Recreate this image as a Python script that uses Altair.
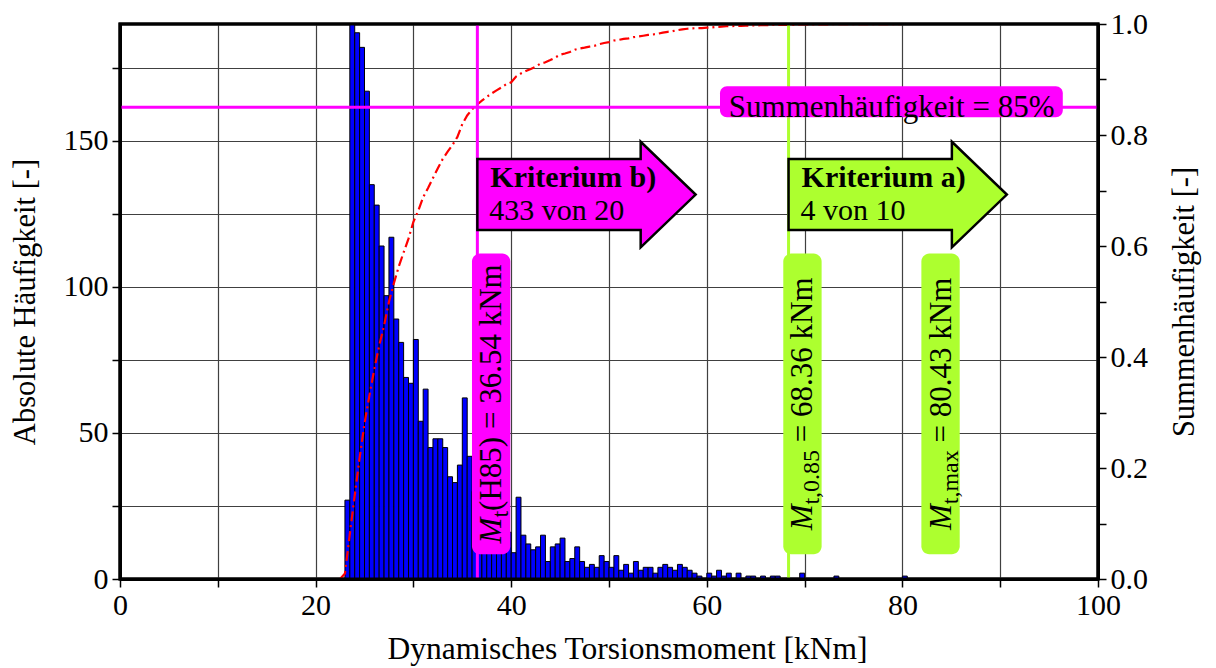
import altair as alt
import numpy as np
import pandas as pd

SERIF = "Liberation Serif"
MAGENTA = "#ff00ff"
GREEN = "#adff2f"
BLUE = "#0000ff"

# Histogram classes, 0.5 kNm wide, the first class starts at 22.5 kNm
BIN_START = 22.5
BIN_WIDTH = 0.5
counts = [
    0,
    27, 192, 187, 182, 167, 135, 128, 114, 97, 117,
    89, 81, 69, 67, 82, 54, 65, 45, 48, 48,
    45, 35, 33, 39, 62, 42, 30, 22, 20, 18,
    17, 15, 14, 16, 9, 28, 15, 12, 10, 11,
    15, 6, 11, 12, 14, 6, 7, 11, 6, 4,
    5, 4, 8, 6, 4, 8, 3, 5, 2, 6,
    3, 4, 4, 2, 4, 5, 4, 3, 5, 4,
    3, 2, 1, 0, 2, 1, 3, 1, 2, 0,
    2, 0, 1, 1, 0, 1, 0, 1, 1, 0,
    0, 0, 0, 2, 0, 0, 0, 0, 0, 0,
    1, 0, 0, 0, 0, 0, 0, 0, 0, 0,
    0, 0, 0, 0, 1,
]

x_ticks = list(range(0, 101, 10))
count_ticks = list(range(0, 176, 25))
frac_ticks = [round(0.1 * i, 1) for i in range(11)]

# Characteristic torque values and the cumulative level
m_h85 = 36.54
m_085 = 68.36
m_max = 80.43
level = 0.85

criteria_titles = ["Kriterium b)", "Kriterium a)"]
criteria_details = ["433 von 20", "4 von 10"]

# ---------------------------------------------------------------------------
W, H = 978, 555
X_DOMAIN = [0, 100]
COUNT_DOMAIN = [0, 190]
x_scale = alt.Scale(domain=X_DOMAIN, nice=False, zero=False)
count_scale = alt.Scale(domain=COUNT_DOMAIN, nice=False)
frac_scale = alt.Scale(domain=[0, 1], nice=False)

hist = pd.DataFrame({
    "start": BIN_START + BIN_WIDTH * np.arange(len(counts)),
    "count": counts,
})
hist["end"] = hist["start"] + BIN_WIDTH
hist["base"] = 0

AXIS_STYLE = dict(
    labelFont=SERIF, titleFont=SERIF, labelFontSize=30,
    labelColor="black", titleColor="black", titleFontWeight="normal",
    domainColor="black", domainWidth=3, tickColor="black", tickWidth=1.5,
    tickSize=8, labelFlush=False, labelOverlap=False,
)

x_axis = alt.Axis(
    values=x_ticks,
    labelExpr="datum.value % 20 == 0 ? datum.label : ''",
    title="Dynamisches Torsionsmoment [kNm]", titleFontSize=31.5,
    grid=True, gridColor="#404040", gridWidth=1.2,
    labelPadding=3, titlePadding=13, titleX=507,
    **AXIS_STYLE,
)
left_axis = alt.Axis(
    orient="left", values=count_ticks,
    labelExpr="datum.value % 50 == 0 ? datum.label : ''",
    title="Absolute Häufigkeit [-]", titleFontSize=30.5,
    grid=True, gridColor="#404040", gridWidth=1.2,
    labelPadding=4, titlePadding=23,
    **AXIS_STYLE,
)
right_axis = alt.Axis(
    orient="right", values=frac_ticks, format=".1f",
    labelExpr="round(datum.value * 10) % 2 == 0 ? datum.label : ''",
    title="Summenhäufigkeit [-]", titleFontSize=30.5,
    grid=False, labelPadding=4, titlePadding=22,
    titleAngle=270, titleBaseline="top",
    **AXIS_STYLE,
)


def xq(field):
    # every layer shares the torque scale and the same bottom axis
    return alt.X(field, type="quantitative", scale=x_scale, axis=x_axis)


bars = alt.Chart(hist).mark_bar(
    fill=BLUE, stroke="black", strokeWidth=1, clip=True
).encode(
    x=xq("start"),
    x2="end:Q",
    y=alt.Y("count:Q", scale=count_scale, axis=left_axis),
    y2="base:Q",
)

cumulative = alt.Chart(hist).transform_window(
    cum="sum(count)", sort=[alt.SortField("start")], frame=[None, 0]
).transform_joinaggregate(
    total="sum(count)"
).transform_calculate(
    frac="datum.cum / datum.total"
).mark_line(
    color="#ff0000", strokeWidth=2.2, strokeDash=[10, 4, 2, 4]
).encode(
    x=xq("start"),
    y=alt.Y("frac:Q", scale=frac_scale, axis=right_axis),
)

vlines = alt.Chart(pd.DataFrame({
    "start": [m_h85, m_085], "color": [MAGENTA, GREEN],
})).mark_rule(strokeWidth=3).encode(
    x=xq("start"),
    color=alt.Color("color:N", scale=None),
)

hline = alt.Chart(pd.DataFrame({"y": [level]})).mark_rule(
    color=MAGENTA, strokeWidth=3
).encode(y=alt.Y("y:Q", scale=frac_scale, axis=None))

# Arrow outline in symbol units (scaled by sqrt(size)/2), origin at the tail
ARROW_PATH = "M0,-0.672L3.093,-0.672L3.093,-1L4.134,0L3.093,1L3.093,0.672L0,0.672Z"
ARROW_SIZE = 105.6 ** 2
criteria = pd.DataFrame({
    "start": [m_h85, m_085],
    "fill": [MAGENTA, GREEN],
    "title": criteria_titles,
    "detail": criteria_details,
    "ay": [131.6, 131.6],
    "ty": [134.1, 134.1],
    "dy": [123.0, 123.0],
})
arrows = alt.Chart(criteria).mark_point(
    shape=ARROW_PATH, size=ARROW_SIZE, filled=True, opacity=1,
    stroke="black", strokeWidth=2.5,
).encode(
    x=xq("start"),
    y=alt.Y("ay:Q", scale=count_scale, axis=None),
    fill=alt.Fill("fill:N", scale=None),
)
arrow_titles = alt.Chart(criteria).mark_text(
    align="left", baseline="alphabetic", dx=13, font=SERIF,
    fontSize=30, fontWeight="bold", color="black",
).encode(
    x=xq("start"),
    y=alt.Y("ty:Q", scale=count_scale, axis=None),
    text="title:N",
)
arrow_details = alt.Chart(criteria).mark_text(
    align="left", baseline="alphabetic", dx=12, font=SERIF,
    fontSize=30, color="black",
).encode(
    x=xq("start"),
    y=alt.Y("dy:Q", scale=count_scale, axis=None),
    text="detail:N",
)

# Label for the 85 % level
level_box = alt.Chart(pd.DataFrame({
    "start": [61.35], "end": [96.4], "y": [0.888], "y2": [0.832],
})).mark_rect(fill=MAGENTA, cornerRadius=7).encode(
    x=xq("start"), x2="end:Q",
    y=alt.Y("y:Q", scale=frac_scale, axis=None), y2="y2:Q",
)
level_text = alt.Chart(pd.DataFrame({"start": [78.9], "y": [level]})).mark_text(
    text=f"Summenhäufigkeit = {level:.0%}", font=SERIF, fontSize=31,
    align="center", baseline="middle", dy=1, color="black",
).encode(
    x=xq("start"),
    y=alt.Y("y:Q", scale=frac_scale, axis=None),
)

# Vertical labels of the characteristic values
BOX_TOP, BOX_BOTTOM = 111.4, 8.5
label_centres = [37.95, 69.78, 83.9]
BOX_HALF = 1.96
value_boxes = alt.Chart(pd.DataFrame({
    "start": [c - BOX_HALF for c in label_centres],
    "end": [c + BOX_HALF for c in label_centres],
    "y": [BOX_TOP] * 3, "y2": [BOX_BOTTOM] * 3,
    "fill": [MAGENTA, GREEN, GREEN],
})).mark_rect(cornerRadius=8).encode(
    x=xq("start"), x2="end:Q",
    y=alt.Y("y:Q", scale=count_scale, axis=None), y2="y2:Q",
    fill=alt.Fill("fill:N", scale=None),
)

REGULAR = {" ": .25, "(": .333, ")": .333, ",": .25, ".": .25, "=": .564,
           "H": .722, "N": .722, "a": .444, "k": .5, "m": .778, "t": .278,
           "x": .5}
ITALIC = {"M": .833, "t": .278}


def text_width(s, size, italic):
    table = ITALIC if italic else REGULAR
    return size * sum(table.get(c, .5) for c in s)


def rotated_label(x_centre, parts):
    """Bottom-to-top label built from (text, size, italic, subscript) parts."""
    widths = [text_width(t, s, it) for t, s, it, _ in parts]
    offset = -sum(widths) / 2
    anchor = pd.DataFrame({"start": [x_centre], "y": [(BOX_TOP + BOX_BOTTOM) / 2]})
    layers = []
    for (t, s, it, sub), w in zip(parts, widths):
        lead = len(t) - len(t.lstrip())
        shift = text_width(" " * lead, s, False)
        layers.append(alt.Chart(anchor).mark_text(
            text=t.strip(), angle=270, align="left", baseline="alphabetic",
            font=SERIF, fontSize=s, fontStyle="italic" if it else "normal",
            dx=offset + shift, dy=10 + (7 if sub else 0), color="black",
        ).encode(x=xq("start"), y=alt.Y("y:Q", scale=count_scale, axis=None)))
        offset += w
    return layers


SUB = 24
label_layers = (
    rotated_label(label_centres[0], [
        ("M", 31, True, False), ("t", SUB, False, True),
        (f"(H85) = {m_h85:.2f} kNm", 31, False, False)])
    + rotated_label(label_centres[1], [
        ("M", 31, True, False), ("t,0.85", SUB, False, True),
        (f" = {m_085:.2f} kNm", 31, False, False)])
    + rotated_label(label_centres[2], [
        ("M", 31, True, False), ("t,max", SUB, False, True),
        (f" = {m_max:.2f} kNm", 31, False, False)])
)

# Plot frame drawn last so it sits above the bars and the curve
frame = alt.Chart(pd.DataFrame({
    "start": [X_DOMAIN[0]], "end": [X_DOMAIN[1]],
    "y": [COUNT_DOMAIN[1]], "y2": [COUNT_DOMAIN[0]],
})).mark_rect(fillOpacity=0, stroke="black", strokeWidth=3).encode(
    x=xq("start"), x2="end:Q",
    y=alt.Y("y:Q", scale=count_scale, axis=None), y2="y2:Q",
)

chart = alt.layer(
    bars, cumulative, vlines, hline, arrows, arrow_titles, arrow_details,
    level_box, level_text, value_boxes, *label_layers, frame,
).resolve_scale(
    y="independent"
).properties(
    width=W, height=H,
    autosize=alt.AutoSizeParams(type="none"),
    padding={"left": 120, "top": 24, "right": 118, "bottom": 89},
    background="white",
).configure_view(
    stroke="black", strokeWidth=3
)

chart.save("out.html", embed_options={"renderer": "svg", "actions": False})
